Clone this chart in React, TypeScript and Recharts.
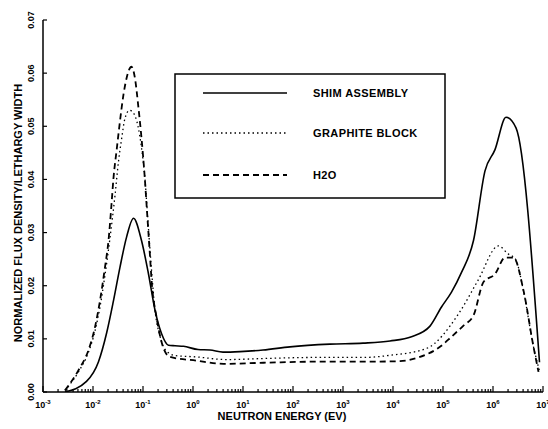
import { LineChart, Line, XAxis, YAxis } from "recharts";

// log10 of neutron energy (eV) and normalized flux per lethargy width
const shimLogE = [-2.56, -2.13, -1.89, -1.73, -1.59, -1.46, -1.33, -1.19, -1.03, -0.89, -0.76, -0.63, -0.49, -0.36, -0.19, 0.1, 0.34, 0.6, 0.94, 1.4, 1.94, 2.74, 3.4, 3.94, 4.37, 4.74, 4.97, 5.17, 5.37, 5.61, 5.84, 6.04, 6.26, 6.46, 6.93];
const shimFlux = [0.0, 0.002, 0.0057, 0.011, 0.0172, 0.0235, 0.0291, 0.0327, 0.0285, 0.0222, 0.0154, 0.011, 0.0088, 0.0087, 0.0086, 0.008, 0.0079, 0.0075, 0.0076, 0.0079, 0.0085, 0.009, 0.0092, 0.0096, 0.0104, 0.0124, 0.016, 0.0188, 0.0225, 0.0285, 0.0416, 0.0456, 0.0517, 0.0497, 0.0056];

const graphiteLogE = [-2.56, -2.29, -2.09, -1.96, -1.86, -1.76, -1.66, -1.56, -1.49, -1.43, -1.36, -1.27, -1.19, -1.1, -1.03, -0.96, -0.9, -0.83, -0.76, -0.66, -0.59, -0.46, -0.39, 0.07, 0.67, 1.41, 2.41, 3.41, 3.94, 4.67, 5.31, 5.7, 6.11, 6.3, 6.45, 6.61, 6.81, 6.93];
const graphiteFlux = [0.0003, 0.0038, 0.0075, 0.0115, 0.016, 0.022, 0.029, 0.037, 0.0434, 0.0475, 0.0515, 0.053, 0.0525, 0.05, 0.046, 0.04, 0.032, 0.023, 0.0154, 0.0105, 0.0085, 0.0072, 0.0069, 0.0066, 0.0061, 0.0063, 0.0065, 0.0065, 0.0069, 0.0082, 0.0147, 0.021, 0.0275, 0.026, 0.025, 0.019, 0.0085, 0.004];

const waterLogE = [-2.56, -2.29, -2.09, -1.96, -1.86, -1.76, -1.69, -1.63, -1.59, -1.53, -1.46, -1.39, -1.33, -1.23, -1.16, -1.09, -1.03, -0.97, -0.92, -0.87, -0.82, -0.73, -0.6, -0.46, 0.07, 0.61, 1.41, 2.41, 3.41, 4.14, 4.54, 4.94, 5.17, 5.41, 5.61, 5.81, 6.04, 6.24, 6.41, 6.61, 6.81, 6.91];
const waterFlux = [0.0003, 0.0041, 0.0079, 0.0122, 0.0172, 0.0235, 0.0285, 0.0353, 0.0403, 0.0453, 0.051, 0.056, 0.059, 0.0612, 0.059, 0.0534, 0.0478, 0.041, 0.034, 0.027, 0.02, 0.0141, 0.0085, 0.0066, 0.0059, 0.0053, 0.0055, 0.0057, 0.0057, 0.0058, 0.0066, 0.0085, 0.0104, 0.0125, 0.0144, 0.0207, 0.0222, 0.0253, 0.0253, 0.0191, 0.0085, 0.0038];

const decades = [-3, -2, -1, 0, 1, 2, 3, 4, 5, 6, 7];
const yTicks = [0, 0.01, 0.02, 0.03, 0.04, 0.05, 0.06, 0.07];
const legendNames = ["SHIM ASSEMBLY", "GRAPHITE BLOCK", "H2O"];

const minorTicks: number[] = [];
for (let d = -3; d < 7; d++) {
  for (let k = 2; k <= 9; k++) minorTicks.push(d + Math.log10(k));
}

const toPoints = (xs: number[], ys: number[]) => xs.map((x, i) => ({ x, y: ys[i] }));

const FONT = "'Liberation Sans', Arial, sans-serif";

function XTick(props: any) {
  const { x, y, payload } = props;
  const v = payload.value as number;
  const major = decades.includes(v);
  return (
    <g>
      <line x1={x} x2={x} y1={y} y2={y - (major ? 6 : 3)} stroke="#000" strokeWidth={1.2} />
      {major && (
        <text x={x} y={y + 16} textAnchor="middle" fontSize={9} fontWeight="bold" fontFamily={FONT} fill="#000">
          10<tspan dy={-4} fontSize={6}>{v}</tspan>
        </text>
      )}
    </g>
  );
}

function YTick(props: any) {
  const { x, y, payload } = props;
  return (
    <g>
      <line x1={x} x2={x + 4} y1={y} y2={y} stroke="#000" strokeWidth={1.2} />
      <text
        transform={`translate(31,${y}) rotate(-90)`}
        textAnchor="middle"
        dominantBaseline="central"
        fontSize={9}
        fontWeight="bold"
        fontFamily={FONT}
        fill="#000"
      >
        {(payload.value as number).toFixed(2)}
      </text>
    </g>
  );
}

function LegendBox() {
  const styles = [
    { dash: undefined, w: 1.6 },
    { dash: "1.5 3", w: 1.3 },
    { dash: "6 4", w: 1.8 },
  ];
  const rows = [93, 133, 175];
  return (
    <g>
      <rect x={175} y={74} width={270} height={124} fill="#fff" stroke="#000" strokeWidth={1.5} />
      {legendNames.map((name, i) => (
        <g key={name}>
          <line x1={203} x2={287} y1={rows[i]} y2={rows[i]} stroke="#000" strokeWidth={styles[i].w} strokeDasharray={styles[i].dash} />
          <text x={313} y={rows[i]} dominantBaseline="central" fontSize={11} letterSpacing={0.4} fontWeight="bold" fontFamily={FONT} fill="#000">
            {name}
          </text>
        </g>
      ))}
    </g>
  );
}

export default function App() {
  return (
    <div style={{ position: "absolute", left: 0, top: 0, background: "#fff" }}>
      <LineChart width={548} height={429} margin={{ top: 20, right: 5, bottom: 0, left: 0 }}>
        <XAxis
          type="number"
          dataKey="x"
          domain={[-3, 7]}
          ticks={[...decades, ...minorTicks]}
          interval={0}
          allowDataOverflow
          height={37}
          tickSize={0}
          tickMargin={0}
          tick={<XTick />}
          axisLine={{ stroke: "#000", strokeWidth: 1.5 }}
          tickLine={false}
        />
        <XAxis xAxisId="top" orientation="top" type="number" domain={[-3, 7]} height={0} tick={false} tickLine={false} axisLine={{ stroke: "#000", strokeWidth: 1.2 }} />
        <YAxis
          type="number"
          domain={[0, 0.07]}
          ticks={yTicks}
          interval={0}
          allowDataOverflow
          width={43}
          tickSize={0}
          tickMargin={0}
          tick={<YTick />}
          axisLine={{ stroke: "#000", strokeWidth: 1.5 }}
          tickLine={false}
        />
        <YAxis yAxisId="right" orientation="right" type="number" domain={[0, 0.07]} width={0} tick={false} tickLine={false} axisLine={{ stroke: "#000", strokeWidth: 1.5 }} />
        <Line data={toPoints(shimLogE, shimFlux)} dataKey="y" type="monotone" stroke="#000" strokeWidth={1.6} dot={false} isAnimationActive={false} />
        <Line data={toPoints(graphiteLogE, graphiteFlux)} dataKey="y" type="monotone" stroke="#000" strokeWidth={1.3} strokeDasharray="1.5 3" dot={false} isAnimationActive={false} />
        <Line data={toPoints(waterLogE, waterFlux)} dataKey="y" type="monotone" stroke="#000" strokeWidth={1.8} strokeDasharray="6 4" dot={false} isAnimationActive={false} />
        <LegendBox />
        <text x={282} y={416} textAnchor="middle" dominantBaseline="central" fontSize={11} fontWeight="bold" fontFamily={FONT} fill="#000">
          NEUTRON ENERGY (EV)
        </text>
        <text transform="translate(18,213) rotate(-90)" textAnchor="middle" dominantBaseline="central" fontSize={11} fontWeight="bold" fontFamily={FONT} fill="#000">
          NORMALIZED FLUX DENSITY/LETHARGY WIDTH
        </text>
      </LineChart>
    </div>
  );
}
